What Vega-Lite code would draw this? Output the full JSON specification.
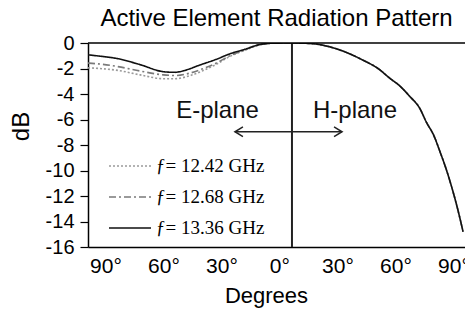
{
  "$schema": "https://vega.github.io/schema/vega-lite/v6.json",
  "width": 377,
  "height": 204,
  "autosize": {"type": "none"},
  "padding": {"left": 88, "top": 43, "right": 0, "bottom": 67},
  "background": "white",
  "config": {"view": {"stroke": null}, "font": "Liberation Sans", "axis": {"labelOverlap": false}, "axisY": {"labelOverlap": false, "tickCount": 9}},
  "title": {"text": "Active Element Radiation Pattern", "fontSize": 24, "fontWeight": "normal", "font": "Liberation Sans", "color": "black", "anchor": "middle", "baseline": "alphabetic", "offset": -17},
  "layer": [
    {
      "data": {"values": [
        {"series": "12.42", "deg": -99, "dB": -1.95},
        {"series": "12.42", "deg": -93, "dB": -2.0},
        {"series": "12.42", "deg": -83.5, "dB": -2.15},
        {"series": "12.42", "deg": -72, "dB": -2.5},
        {"series": "12.42", "deg": -60, "dB": -2.8},
        {"series": "12.42", "deg": -54, "dB": -2.8},
        {"series": "12.42", "deg": -46, "dB": -2.55},
        {"series": "12.42", "deg": -38.5, "dB": -2.1},
        {"series": "12.42", "deg": -33, "dB": -1.7},
        {"series": "12.42", "deg": -25.6, "dB": -1.05},
        {"series": "12.42", "deg": -18, "dB": -0.58},
        {"series": "12.42", "deg": -10, "dB": -0.14},
        {"series": "12.42", "deg": -2, "dB": -0.01},
        {"series": "12.42", "deg": 6.5, "dB": 0},
        {"series": "12.42", "deg": 16, "dB": -0.04},
        {"series": "12.42", "deg": 26, "dB": -0.3},
        {"series": "12.42", "deg": 34, "dB": -0.7},
        {"series": "12.42", "deg": 43, "dB": -1.33},
        {"series": "12.42", "deg": 51, "dB": -2.0},
        {"series": "12.42", "deg": 57, "dB": -2.75},
        {"series": "12.42", "deg": 62.5, "dB": -3.4},
        {"series": "12.42", "deg": 67.5, "dB": -4.2},
        {"series": "12.42", "deg": 72.5, "dB": -5.1},
        {"series": "12.42", "deg": 76, "dB": -6.2},
        {"series": "12.42", "deg": 80, "dB": -7.3},
        {"series": "12.42", "deg": 83, "dB": -8.5},
        {"series": "12.42", "deg": 86.5, "dB": -10.0},
        {"series": "12.42", "deg": 89.5, "dB": -11.5},
        {"series": "12.42", "deg": 92.5, "dB": -13.2},
        {"series": "12.42", "deg": 95, "dB": -14.8},
        {"series": "12.68", "deg": -99, "dB": -1.57},
        {"series": "12.68", "deg": -93, "dB": -1.65},
        {"series": "12.68", "deg": -83.5, "dB": -1.85},
        {"series": "12.68", "deg": -72, "dB": -2.2},
        {"series": "12.68", "deg": -60, "dB": -2.5},
        {"series": "12.68", "deg": -54, "dB": -2.55},
        {"series": "12.68", "deg": -46, "dB": -2.35},
        {"series": "12.68", "deg": -38.5, "dB": -1.95},
        {"series": "12.68", "deg": -33, "dB": -1.6},
        {"series": "12.68", "deg": -25.6, "dB": -1.0},
        {"series": "12.68", "deg": -18, "dB": -0.55},
        {"series": "12.68", "deg": -10, "dB": -0.13},
        {"series": "12.68", "deg": -2, "dB": -0.01},
        {"series": "12.68", "deg": 6.5, "dB": 0},
        {"series": "12.68", "deg": 16, "dB": -0.04},
        {"series": "12.68", "deg": 26, "dB": -0.3},
        {"series": "12.68", "deg": 34, "dB": -0.7},
        {"series": "12.68", "deg": 43, "dB": -1.33},
        {"series": "12.68", "deg": 51, "dB": -2.0},
        {"series": "12.68", "deg": 57, "dB": -2.75},
        {"series": "12.68", "deg": 62.5, "dB": -3.4},
        {"series": "12.68", "deg": 67.5, "dB": -4.2},
        {"series": "12.68", "deg": 72.5, "dB": -5.1},
        {"series": "12.68", "deg": 76, "dB": -6.2},
        {"series": "12.68", "deg": 80, "dB": -7.3},
        {"series": "12.68", "deg": 83, "dB": -8.5},
        {"series": "12.68", "deg": 86.5, "dB": -10.0},
        {"series": "12.68", "deg": 89.5, "dB": -11.5},
        {"series": "12.68", "deg": 92.5, "dB": -13.2},
        {"series": "12.68", "deg": 95, "dB": -14.8},
        {"series": "13.36", "deg": -99, "dB": -0.93},
        {"series": "13.36", "deg": -93, "dB": -1.03},
        {"series": "13.36", "deg": -83.5, "dB": -1.23},
        {"series": "13.36", "deg": -72, "dB": -1.7},
        {"series": "13.36", "deg": -60, "dB": -2.25},
        {"series": "13.36", "deg": -54, "dB": -2.3},
        {"series": "13.36", "deg": -49, "dB": -2.15},
        {"series": "13.36", "deg": -41, "dB": -1.72},
        {"series": "13.36", "deg": -33, "dB": -1.3},
        {"series": "13.36", "deg": -25.6, "dB": -0.85},
        {"series": "13.36", "deg": -18, "dB": -0.5},
        {"series": "13.36", "deg": -10, "dB": -0.12},
        {"series": "13.36", "deg": -2, "dB": -0.01},
        {"series": "13.36", "deg": 6.5, "dB": 0},
        {"series": "13.36", "deg": 16, "dB": -0.04},
        {"series": "13.36", "deg": 26, "dB": -0.3},
        {"series": "13.36", "deg": 34, "dB": -0.7},
        {"series": "13.36", "deg": 43, "dB": -1.33},
        {"series": "13.36", "deg": 51, "dB": -2.0},
        {"series": "13.36", "deg": 57, "dB": -2.75},
        {"series": "13.36", "deg": 62.5, "dB": -3.4},
        {"series": "13.36", "deg": 67.5, "dB": -4.2},
        {"series": "13.36", "deg": 72.5, "dB": -5.1},
        {"series": "13.36", "deg": 76, "dB": -6.2},
        {"series": "13.36", "deg": 80, "dB": -7.3},
        {"series": "13.36", "deg": 83, "dB": -8.5},
        {"series": "13.36", "deg": 86.5, "dB": -10.0},
        {"series": "13.36", "deg": 89.5, "dB": -11.5},
        {"series": "13.36", "deg": 92.5, "dB": -13.2},
        {"series": "13.36", "deg": 95, "dB": -14.8}
      ]},
      "mark": {"type": "line", "interpolate": "monotone", "strokeWidth": 1.6, "clip": true},
      "encoding": {
        "x": {
          "field": "deg", "type": "quantitative",
          "scale": {"domain": [-99, 96], "nice": false, "zero": false},
          "axis": {
            "values": [-90, -60, -30, 0, 30, 60, 90],
            "labelExpr": "abs(datum.value) + '°'",
            "labelFontSize": 21, "labelColor": "black", "labelFont": "Liberation Sans",
            "ticks": false, "grid": false,
            "domainColor": "black", "domainWidth": 1.5,
            "labelPadding": 8, "labelFlush": false, "labelOverlap": false,
            "titleFontSize": 22, "titleFontWeight": "normal", "titleColor": "black", "titleFont": "Liberation Sans",
            "titlePadding": 9, "titleX": 178
          },
          "title": "Degrees"
        },
        "y": {
          "field": "dB", "type": "quantitative",
          "scale": {"domain": [-16, 0], "nice": false},
          "axis": {
            "values": [-16, -14, -12, -10, -8, -6, -4, -2, 0],
            "tickCount": 9,
            "labelExpr": "'' + datum.value",
            "labelOverlap": false, "labelFlush": false,
            "labelFontSize": 20, "labelColor": "black", "labelFont": "Liberation Sans",
            "tickSize": 8, "tickColor": "black", "tickWidth": 1.2,
            "domainColor": "black", "domainWidth": 1.5,
            "grid": false, "labelPadding": 6,
            "titleFontSize": 24, "titleFontWeight": "normal", "titleColor": "black", "titleFont": "Liberation Sans",
            "titleX": -55, "titleY": 83, "titleAngle": -90, "titleAlign": "center", "titleBaseline": "bottom"
          },
          "title": "dB"
        },
        "color": {
          "field": "series", "type": "nominal",
          "scale": {"domain": ["12.42", "12.68", "13.36"], "range": ["#9a9a9a", "#7a7a7a", "#111111"]},
          "legend": {
            "orient": "none", "legendX": 20, "legendY": 113, "title": null,
            "symbolType": "stroke", "symbolSize": 1764, "symbolStrokeWidth": 1.6,
            "labelExpr": "'ƒ= ' + datum.label + ' GHz'",
            "labelFont": "Liberation Serif", "labelFontSize": 19, "labelColor": "black",
            "labelOffset": 4, "clipHeight": 20, "rowPadding": 11, "padding": 0
          }
        },
        "strokeDash": {
          "field": "series", "type": "nominal",
          "scale": {"domain": ["12.42", "12.68", "13.36"], "range": [[2, 2], [7, 3, 2, 3], [1, 0]]},
          "legend": {
            "orient": "none", "legendX": 20, "legendY": 113, "title": null,
            "symbolType": "stroke", "symbolSize": 1764, "symbolStrokeWidth": 1.6,
            "labelExpr": "'ƒ= ' + datum.label + ' GHz'",
            "labelFont": "Liberation Serif", "labelFontSize": 19, "labelColor": "black",
            "labelOffset": 4, "clipHeight": 20, "rowPadding": 11, "padding": 0
          }
        }
      }
    },
    {
      "data": {"values": [{}]},
      "mark": {"type": "rule", "color": "#222222", "strokeWidth": 2},
      "encoding": {"x": {"datum": 6.5}}
    },
    {
      "data": {"values": [{}]},
      "mark": {"type": "rule", "color": "black", "strokeWidth": 1.5},
      "encoding": {"y": {"datum": 0}}
    },
    {
      "data": {"values": [{}]},
      "mark": {"type": "rule", "color": "#222222", "strokeWidth": 1.5},
      "encoding": {"x": {"datum": -23}, "x2": {"datum": 32.4}, "y": {"datum": -6.96}}
    },
    {
      "data": {"values": [{}]},
      "mark": {"type": "point", "shape": "M1,-0.6L0,0L1,0.6", "size": 256, "filled": false, "stroke": "#222222", "strokeWidth": 1.5, "opacity": 1},
      "encoding": {"x": {"datum": -23}, "y": {"datum": -6.96}}
    },
    {
      "data": {"values": [{}]},
      "mark": {"type": "point", "shape": "M-1,-0.6L0,0L-1,0.6", "size": 256, "filled": false, "stroke": "#222222", "strokeWidth": 1.5, "opacity": 1},
      "encoding": {"x": {"datum": 32.4}, "y": {"datum": -6.96}}
    },
    {
      "data": {"values": [{}]},
      "mark": {"type": "text", "fontSize": 24, "font": "Liberation Sans", "baseline": "alphabetic", "align": "center", "color": "#111111"},
      "encoding": {"x": {"datum": -32}, "y": {"datum": -5.88}, "text": {"value": "E-plane"}}
    },
    {
      "data": {"values": [{}]},
      "mark": {"type": "text", "fontSize": 24, "font": "Liberation Sans", "baseline": "alphabetic", "align": "center", "color": "#111111"},
      "encoding": {"x": {"datum": 39.1}, "y": {"datum": -5.88}, "text": {"value": "H-plane"}}
    }
  ]
}
